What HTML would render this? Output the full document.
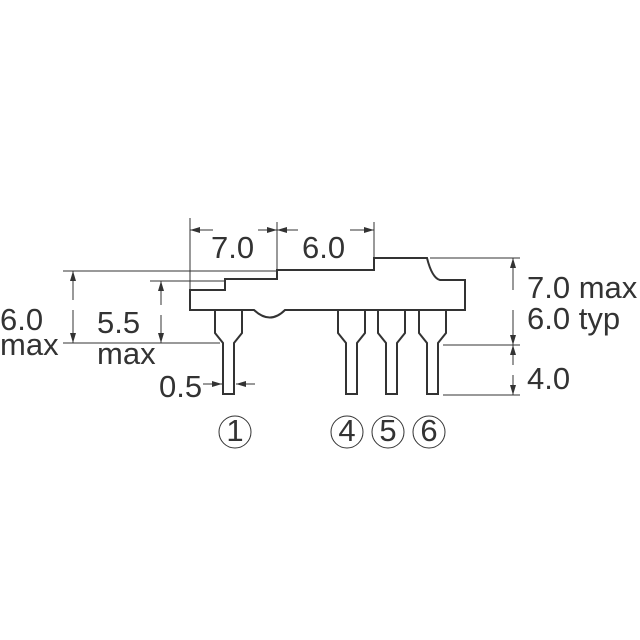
<!DOCTYPE html><html><head><style>body{margin:0;background:#fff}svg{display:block}text{font-family:"Liberation Sans",sans-serif;fill:#333;font-size:31px}</style></head><body>
<svg width="640" height="640" viewBox="0 0 640 640" xmlns="http://www.w3.org/2000/svg">
<defs><marker id="a" markerWidth="10" markerHeight="8" refX="10" refY="4" orient="auto" markerUnits="userSpaceOnUse"><path d="M0,1 L10,4 L0,7z" fill="#333"/></marker></defs>
<g fill="none" stroke="#333" stroke-width="2">
<path d="M190,290 H225 V279 H277 V270 H374 V258 H427 Q432,278 440,280 H465 V310 H285 Q270,325 254,310 H190 Z"/>
<path d="M215,310 V333 L223,343 V394 H234 V343 L242,333 V310"/>
<path d="M338,310 V333 L346,343 V394 H357 V343 L365,333 V310"/>
<path d="M378,310 V333 L386,343 V394 H397 V343 L405,333 V310"/>
<path d="M419,310 V333 L427,343 V394 H438 V343 L446,333 V310"/>
</g>
<g stroke="#333" stroke-width="1" fill="none">
<path d="M190,218 V290 M277,222 V277 M374,222 V258"/>
<path d="M213,230 H190" marker-end="url(#a)"/><path d="M258,230 H277" marker-end="url(#a)"/>
<path d="M298,230 H277" marker-end="url(#a)"/><path d="M350,230 H374" marker-end="url(#a)"/>
<path d="M63,271 H277 M150,281 H225 M63,343 H220"/>
<path d="M73,300 V271" marker-end="url(#a)"/><path d="M73,310 V343" marker-end="url(#a)"/>
<path d="M161,305 V281" marker-end="url(#a)"/><path d="M161,315 V343" marker-end="url(#a)"/>
<path d="M203,384 H222" marker-end="url(#a)"/><path d="M255,384 H236" marker-end="url(#a)"/>
<path d="M430,258 H520 M443,345 H520 M443,395 H520"/>
<path d="M513,290 V258" marker-end="url(#a)"/><path d="M513,310 V345" marker-end="url(#a)"/>
<path d="M513,365 V345" marker-end="url(#a)"/><path d="M513,375 V395" marker-end="url(#a)"/>
<circle cx="235" cy="432" r="16"/><circle cx="347" cy="432" r="16"/><circle cx="388" cy="432" r="16"/><circle cx="429" cy="432" r="16"/>
</g>
<text x="0" y="330">6.0</text><text x="0" y="355">max</text>
<text x="97" y="333">5.5</text><text x="97" y="364">max</text>
<text x="159" y="397">0.5</text>
<text x="211" y="258">7.0</text><text x="302" y="258">6.0</text>
<text x="527" y="298">7.0 max</text><text x="527" y="329">6.0 typ</text><text x="527" y="389">4.0</text>
<g text-anchor="middle" style="font-size:26px"><text x="235" y="441">1</text><text x="347" y="441">4</text><text x="388" y="441">5</text><text x="429" y="441">6</text></g>
</svg></body></html>
